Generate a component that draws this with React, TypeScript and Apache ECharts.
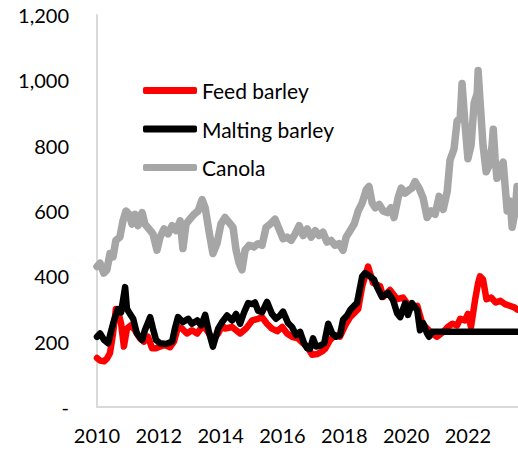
import React, { useEffect, useRef } from "react";
import * as echarts from "echarts";

const seriesNames = ["Feed barley", "Malting barley", "Canola"];
const xTicks = [2010, 2012, 2014, 2016, 2018, 2020, 2022];
const yTicks = [0, 200, 400, 600, 800, 1000, 1200];

const canolaX = [2010.0, 2010.1, 2010.22, 2010.32, 2010.42, 2010.52, 2010.61, 2010.74, 2010.84, 2010.94, 2011.04, 2011.13, 2011.23, 2011.33, 2011.46, 2011.55, 2011.68, 2011.81, 2011.94, 2012.04, 2012.17, 2012.3, 2012.43, 2012.56, 2012.69, 2012.78, 2012.88, 2013.0, 2013.14, 2013.27, 2013.4, 2013.5, 2013.62, 2013.75, 2013.88, 2014.01, 2014.14, 2014.27, 2014.4, 2014.5, 2014.6, 2014.69, 2014.79, 2014.92, 2015.08, 2015.21, 2015.34, 2015.47, 2015.6, 2015.76, 2015.89, 2016.02, 2016.15, 2016.28, 2016.41, 2016.54, 2016.67, 2016.8, 2016.93, 2017.06, 2017.18, 2017.31, 2017.44, 2017.57, 2017.7, 2017.83, 2017.96, 2018.06, 2018.19, 2018.32, 2018.45, 2018.58, 2018.71, 2018.8, 2018.9, 2019.0, 2019.13, 2019.26, 2019.39, 2019.51, 2019.61, 2019.74, 2019.84, 2019.97, 2020.1, 2020.19, 2020.29, 2020.42, 2020.55, 2020.68, 2020.81, 2020.94, 2021.07, 2021.2, 2021.33, 2021.42, 2021.55, 2021.65, 2021.75, 2021.81, 2021.91, 2022.0, 2022.1, 2022.2, 2022.3, 2022.33, 2022.39, 2022.49, 2022.59, 2022.69, 2022.78, 2022.82, 2022.88, 2022.94, 2023.04, 2023.14, 2023.2, 2023.27, 2023.37, 2023.43, 2023.53, 2023.59];
const canolaY = [430, 440, 410, 420, 470, 460, 510, 520, 570, 600, 590, 560, 590, 555, 595, 560, 545, 530, 480, 520, 545, 530, 555, 540, 570, 485, 560, 575, 590, 600, 635, 610, 540, 470, 500, 560, 580, 565, 550, 480, 440, 420, 480, 495, 490, 500, 495, 550, 560, 575, 545, 515, 520, 510, 530, 555, 525, 545, 520, 540, 525, 535, 505, 510, 495, 500, 480, 520, 540, 560, 600, 625, 665, 675, 625, 610, 620, 600, 595, 610, 580, 640, 670, 655, 665, 670, 690, 670, 640, 580, 600, 590, 645, 605, 660, 755, 790, 875, 885, 990, 860, 760, 800, 930, 960, 1030, 940, 800, 720, 740, 800, 850, 760, 700, 720, 750, 680, 600, 630, 550, 600, 675];

const feedX = [2010.0, 2010.1, 2010.23, 2010.32, 2010.42, 2010.52, 2010.61, 2010.68, 2010.78, 2010.87, 2010.97, 2011.1, 2011.23, 2011.39, 2011.52, 2011.65, 2011.78, 2011.91, 2012.04, 2012.2, 2012.36, 2012.49, 2012.62, 2012.75, 2012.91, 2013.07, 2013.24, 2013.43, 2013.59, 2013.75, 2013.92, 2014.05, 2014.14, 2014.37, 2014.63, 2014.82, 2015.02, 2015.21, 2015.34, 2015.5, 2015.66, 2015.83, 2015.99, 2016.15, 2016.31, 2016.5, 2016.67, 2016.83, 2016.96, 2017.12, 2017.28, 2017.38, 2017.54, 2017.7, 2017.86, 2018.03, 2018.19, 2018.35, 2018.45, 2018.58, 2018.77, 2018.93, 2019.16, 2019.26, 2019.48, 2019.71, 2019.9, 2020.03, 2020.19, 2020.36, 2020.52, 2020.68, 2020.84, 2021.0, 2021.2, 2021.35, 2021.5, 2021.65, 2021.75, 2021.9, 2022.0, 2022.1, 2022.23, 2022.33, 2022.39, 2022.49, 2022.6, 2022.75, 2022.9, 2023.05, 2023.2, 2023.35, 2023.5, 2023.6];
const feedY = [150, 142, 140, 148, 165, 225, 300, 295, 255, 185, 240, 250, 235, 210, 200, 215, 180, 180, 185, 190, 183, 200, 245, 240, 225, 235, 225, 250, 230, 205, 225, 250, 240, 245, 225, 240, 265, 270, 275, 255, 240, 232, 245, 225, 215, 210, 195, 180, 160, 162, 170, 178, 205, 220, 215, 250, 275, 290, 300, 370, 430, 380, 370, 337, 358, 330, 335, 318, 305, 310, 257, 240, 225, 215, 230, 245, 255, 250, 270, 265, 285, 245, 327, 380, 400, 390, 330, 335, 320, 325, 315, 310, 305, 298];

const maltX = [2010.0, 2010.1, 2010.23, 2010.36, 2010.45, 2010.55, 2010.68, 2010.78, 2010.91, 2010.97, 2011.07, 2011.17, 2011.29, 2011.46, 2011.55, 2011.72, 2011.81, 2011.91, 2012.04, 2012.23, 2012.43, 2012.52, 2012.62, 2012.78, 2012.95, 2013.07, 2013.24, 2013.37, 2013.5, 2013.62, 2013.75, 2013.92, 2014.05, 2014.21, 2014.37, 2014.5, 2014.63, 2014.76, 2014.89, 2015.02, 2015.11, 2015.21, 2015.34, 2015.5, 2015.66, 2015.79, 2015.92, 2016.02, 2016.18, 2016.31, 2016.44, 2016.57, 2016.7, 2016.8, 2016.89, 2016.99, 2017.09, 2017.22, 2017.35, 2017.48, 2017.61, 2017.73, 2017.86, 2017.96, 2018.09, 2018.19, 2018.32, 2018.41, 2018.58, 2018.67, 2018.83, 2018.96, 2019.06, 2019.22, 2019.42, 2019.58, 2019.71, 2019.81, 2019.97, 2020.06, 2020.19, 2020.36, 2020.45, 2020.55, 2020.68, 2020.74, 2020.84, 2023.6];
const maltY = [215, 225, 205, 195, 230, 265, 300, 290, 367, 300, 285, 270, 225, 205, 235, 275, 240, 205, 195, 193, 200, 240, 275, 260, 270, 255, 265, 250, 282, 230, 185, 240, 260, 280, 265, 285, 255, 290, 318, 315, 320, 295, 290, 322, 285, 270, 280, 292, 257, 245, 220, 230, 195, 180, 178, 210, 185, 188, 195, 255, 225, 215, 220, 267, 280, 297, 310, 318, 400, 410, 400, 390, 367, 337, 350, 327, 287, 275, 318, 282, 318, 297, 235, 257, 225, 215, 230, 230];

const pair = (xs: number[], ys: number[]) => xs.map((x, i) => [x, ys[i]]);

const FONT = "Lato";

export default function App() {
  const ref = useRef<HTMLDivElement>(null);
  useEffect(() => {
    if (!ref.current) return;
    const chart = echarts.init(ref.current, null, { renderer: "svg" });
    chart.setOption({
      animation: false,
      backgroundColor: "#ffffff",
      grid: { left: 97, right: 0, top: 15, bottom: 46, containLabel: false },
      legend: {
        data: seriesNames,
        orient: "vertical",
        left: 138,
        top: 75,
        itemWidth: 54,
        itemHeight: 7,
        itemGap: 17.5,
        icon: "roundRect",
        textStyle: { fontFamily: FONT, fontSize: 21, color: "#000", lineHeight: 20 },
      },
      xAxis: {
        type: "value",
        min: 2010,
        max: 2023.62,
        interval: 2,
        axisLine: { show: true, lineStyle: { color: "#d9d9d9", width: 2 } },
        axisTick: { show: false },
        splitLine: { show: false },
        axisLabel: {
          fontFamily: FONT,
          fontSize: 20,
          color: "#000",
          margin: 18,
          showMaxLabel: false,
          formatter: (v: number) => (xTicks.includes(v) ? String(v) : ""),
        },
      },
      yAxis: {
        type: "value",
        min: 0,
        max: 1200,
        interval: 200,
        axisLine: { show: true, lineStyle: { color: "#d9d9d9", width: 2 } },
        axisTick: { show: false },
        splitLine: { show: false },
        axisLabel: {
          fontFamily: FONT,
          fontSize: 20,
          color: "#000",
          margin: 28,
          formatter: (v: number) =>
            yTicks.includes(v) ? (v === 0 ? "-" : v.toLocaleString("en-US")) : "",
        },
      },
      series: [
        {
          name: "Canola",
          type: "line",
          data: pair(canolaX, canolaY),
          showSymbol: false,
          lineStyle: { color: "#a6a6a6", width: 7.5, cap: "round", join: "round" },
          itemStyle: { color: "#a6a6a6" },
        },
        {
          name: "Feed barley",
          type: "line",
          data: pair(feedX, feedY),
          showSymbol: false,
          lineStyle: { color: "#ff0000", width: 6.5, cap: "round", join: "round" },
          itemStyle: { color: "#ff0000" },
        },
        {
          name: "Malting barley",
          type: "line",
          data: pair(maltX, maltY),
          showSymbol: false,
          lineStyle: { color: "#000000", width: 6.5, cap: "round", join: "round" },
          itemStyle: { color: "#000000" },
        },
      ],
    });
    return () => chart.dispose();
  }, []);
  return <div ref={ref} style={{ width: 518, height: 453, position: "absolute", left: 0, top: 0 }} />;
}
